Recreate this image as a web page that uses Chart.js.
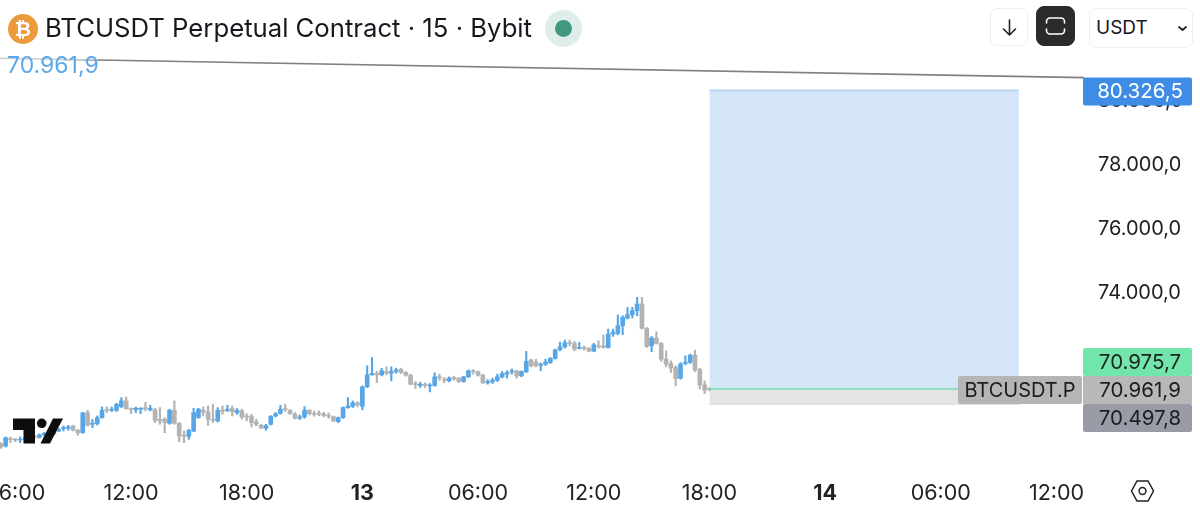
<!DOCTYPE html>
<html>
<head>
<meta charset="utf-8">
<script src="https://cdn.jsdelivr.net/npm/chart.js@4"></script>
<style>
  html, body { margin: 0; padding: 0; background: #fff; }
  #wrap { position: relative; width: 1200px; height: 513px; overflow: hidden; font-family: Inter, "Noto Sans", sans-serif; color: #16181d; }
  canvas { position: absolute; left: 0; top: 0; }
  .coin { position: absolute; left: 8px; top: 14px; width: 30px; height: 30px; border-radius: 50%; background: #ec9a3c; color: #fff; font: bold 20px "Liberation Sans", sans-serif; line-height: 30px; text-align: center; transform-origin: center; }
  .title { position: absolute; left: 45px; top: 11px; font-size: 25.7px; line-height: 34px; white-space: nowrap; letter-spacing: 0; }
  .live { position: absolute; left: 545px; top: 10px; width: 37px; height: 37px; border-radius: 50%; background: #dfeeea; }
  .live i { position: absolute; left: 10px; top: 10px; width: 17px; height: 17px; border-radius: 50%; background: #41987f; }
  .btn { position: absolute; box-sizing: border-box; border: 1.5px solid #eeeeee; border-radius: 7px; background: #fff; }
  .btn svg { position: absolute; left: 0; top: 0; }
  .dark { background: #2b2b2b; border-color: #2b2b2b; border-radius: 8px; }
  .cur { font-size: 19px; line-height: 37px; padding-left: 6px; }
</style>
</head>
<body>
<div id="wrap">
  <canvas id="c" width="1200" height="513"></canvas>
  <div class="coin">&#8383;</div>
  <div class="title">BTCUSDT Perpetual Contract · 15 · Bybit</div>
  <div class="live"><i></i></div>
  <div class="btn" style="left:990px;top:8px;width:38px;height:38px">
    <svg width="36" height="36" viewBox="0 0 36 36" fill="none" stroke="#222" stroke-width="1.6" stroke-linecap="round" stroke-linejoin="round"><path d="M18.5 11V26M12.5 20L18.5 26L24.5 20"/></svg>
  </div>
  <div class="btn dark" style="left:1036px;top:6px;width:39px;height:40px">
    <svg width="37" height="38" viewBox="0 0 37 38" fill="none" stroke="#fff" stroke-width="1.6" stroke-linecap="round"><path d="M9.5 16V14.5a3.5 3.5 0 0 1 3.5-3.5H24a3.5 3.5 0 0 1 3.5 3.5V16M9.5 22V23.5a3.5 3.5 0 0 0 3.5 3.5H24a3.5 3.5 0 0 0 3.5-3.5V22"/></svg>
  </div>
  <div class="btn cur" style="left:1089px;top:8px;width:104px;height:40px">USDT
    <svg width="102" height="38" viewBox="0 0 102 38" fill="none" stroke="#222" stroke-width="1.8" stroke-linecap="round" stroke-linejoin="round"><path d="M89 18L92.5 21L96 18"/></svg>
  </div>
</div>
<script>
// 15-minute bars of BTCUSDT, first bar three bars before 06:00 on the 12th.
const firstBar = -3;
const opens = [
  69263,69190,69421,69410,69379,69400,69430,69480,69460,69540,69590,69570,69660,
  69735,69745,69818,69682,69609,70237,69871,69892,70080,70342,70311,70311,70426,70604,
  70373,70331,70342,70394,70321,70321,70028,70028,69902,70311,69902,69525,69494,69661,70080,
  70310,70258,70028,69975,70310,70310,70363,70237,70289,70132,70122,69944,69839,69745,69870,70132,70216,
  70363,70310,70195,70069,70101,70310,70216,70216,70195,70153,70111,69954,70080,70394,70436,70541,70436,
  71043,71420,71462,71420,71525,71472,71525,
  71598,71493,71409,71148,71085,71127,71074,71085,71357,71284,71231,71336,71315,71210,71357,71545,71514,
  71409,71169,71200,71252,71357,71441,71514,71545,71388,71514,71881,71818,71723,71755,71807,71933,72205,72299,
  72435,72404,72247,72278,72247,72163,72330,72330,72278,72697,72718,72959,73199,73304,73430,73639,72875,
  72330,72571,72404,71912,71776,71650,71315,71776,71807,72037,71587,71105,70990
];
const closes = [
  69159,69452,69389,69379,69400,69430,69480,69460,69540,69590,69570,69660,69710,
  69766,69787,69682,69599,70227,69839,69902,70080,70311,70311,70342,70499,70604,70363,
  70342,70373,70373,70352,70373,69996,69976,69923,70311,69902,69504,69494,69682,70237,70342,
  70247,70028,69996,70310,70268,70342,70268,70310,70101,70101,69923,69870,69755,69829,70122,70205,70342,
  70331,70205,70059,70101,70310,70205,70185,70185,70143,70122,69975,70080,70394,70446,70541,70478,71043,
  71420,71462,71420,71546,71472,71525,71577,
  71493,71409,71127,71116,71127,71085,71106,71357,71326,71252,71315,71294,71210,71357,71545,71514,71409,
  71169,71210,71252,71357,71462,71493,71545,71388,71525,71839,71703,71703,71755,71818,71933,72205,72299,72425,
  72404,72226,72278,72236,72163,72362,72299,72278,72697,72760,72959,73220,73304,73430,73639,72875,72309,
  72571,72404,71912,71755,71629,71304,71755,71807,72037,71566,71105,70938,70962
];
const highs = [
  69295,69473,69473,69421,69473,69470,69510,69530,69570,69620,69640,69690,69750,
  69818,69839,69839,69714,70248,70311,70028,70133,70415,70415,70415,70530,70708,70729,
  70385,70415,70394,70562,70468,70373,70394,70080,70342,70604,69923,69661,69714,70373,70373,
  70415,70446,70499,70394,70446,70467,70446,70363,70342,70205,70185,70028,69870,69870,70143,70237,70467,
  70499,70331,70237,70164,70425,70331,70289,70289,70247,70226,70132,70101,70415,70708,70603,70582,71075,
  71703,71964,71525,71629,71671,71671,71629,
  71629,71525,71441,71210,71190,71169,71148,71483,71441,71336,71357,71378,71336,71378,71577,71587,71545,
  71441,71273,71315,71441,71525,71545,71608,71566,71545,72153,71912,71912,71797,71912,71964,72226,72446,72509,
  72508,72467,72435,72320,72278,72404,72488,72665,72854,72854,73294,73273,73534,73534,73849,73849,72906,
  72624,72770,72435,72173,71859,71702,71807,72016,72069,72194,71629,71231,71020
];
const lows = [
  69117,69159,69295,69326,69295,69370,69410,69430,69440,69510,69540,69550,69640,
  69661,69682,69661,69525,69588,69818,69766,69850,70059,70237,70269,70269,70394,70342,
  70206,70237,70206,70290,70290,69923,69871,69609,69871,69871,69326,69295,69400,69640,70059,
  70132,69839,69923,69944,70185,70268,70132,70185,70038,69975,69787,69818,69734,69682,69850,70101,70185,
  70268,70185,70038,70017,70059,70164,70122,70143,70101,70059,69954,69923,70059,70373,70394,70415,70321,
  71022,71409,71179,71389,71420,71232,71472,
  71462,71378,71106,70991,71022,71022,70886,71064,71252,71169,71200,71252,71179,71190,71336,71441,71378,
  71148,71127,71148,71210,71315,71315,71441,71315,71357,71493,71671,71671,71545,71713,71776,71912,72174,72257,
  72330,72173,72226,72194,72142,72142,72257,72257,72257,72624,72676,72676,73168,73199,73273,72854,72278,
  72142,72383,71838,71671,71493,71074,71283,71734,71776,71524,70980,70833,70917
];

// Trend line drawn across the whole pane.
const trendTimes = [-3.17, 221.7];
const trendPrices = [81340, 80730];

// Long position tool.
const positionTimes = [144, 208.2];
const targetPrice = 80326.5;
const entryPrice = 70975.7;
const lastPrice = 70961.9;
const stopPrice = 70497.8;

const yTicks = [74000, 76000, 78000, 80000];
const xTickBars = [0, 24, 48, 72, 96, 120, 144, 168, 192, 216];
const xTickLabels = ["06:00", "12:00", "18:00", "13", "06:00", "12:00", "18:00", "14", "06:00", "12:00"];
const boldLabels = ["13", "14"];

const BLUE = "#58a6e6";
const GREY = "#b3b3b3";
const FONT = "Inter, 'Noto Sans', sans-serif";

const fmtPrice = v => {
  const [a, b] = Math.abs(v).toFixed(1).split(".");
  return a.replace(/\B(?=(\d{3})+$)/g, ".") + "," + b;
};

const bars = opens.map((_, i) => firstBar + i);
const barColors = opens.map((o, i) => (closes[i] >= o ? BLUE : GREY));

const wicks = {
  type: "bar", label: "Range", order: 5, grouped: false, barThickness: 1.5,
  data: bars.map((x, i) => ({ x, y: [lows[i], highs[i]] })),
  backgroundColor: barColors, borderWidth: 0
};
const bodies = {
  type: "bar", label: "Body", order: 4, grouped: false, barThickness: 4,
  data: bars.map((x, i) => ({ x, y: [opens[i], closes[i]] })),
  backgroundColor: barColors, borderWidth: 0
};
const flat = (xs, p) => xs.map(x => ({ x, y: p }));
const profit = {
  type: "line", label: "Target zone", order: 9, pointRadius: 0,
  data: flat(positionTimes, targetPrice),
  borderColor: "#bcd5f1", borderWidth: 2,
  backgroundColor: "#d5e6f9", fill: { value: entryPrice }
};
const loss = {
  type: "line", label: "Stop zone", order: 8, pointRadius: 0,
  data: flat(positionTimes, stopPrice),
  borderColor: "#dcdcdc", borderWidth: 1,
  backgroundColor: "#e4e4e4", fill: { value: entryPrice }
};
const entry = {
  type: "line", label: "Entry", order: 3, pointRadius: 0,
  data: flat(positionTimes, entryPrice),
  borderColor: "#72dfb2", borderWidth: 1.6, fill: false
};
const trend = {
  type: "line", label: "Trend", order: 1, pointRadius: 0,
  data: trendTimes.map((x, i) => ({ x, y: trendPrices[i] })),
  borderColor: "#808080", borderWidth: 1.6, fill: false
};

function tag(ctx, text, x0, x1, y0, y1, bg, fg, radius, shift, size) {
  ctx.fillStyle = bg;
  ctx.beginPath();
  ctx.roundRect(x0, y0, x1 - x0, y1 - y0, radius);
  ctx.fill();
  ctx.fillStyle = fg;
  ctx.font = size + "px " + FONT;
  ctx.textAlign = "center";
  ctx.textBaseline = "middle";
  ctx.fillText(text, (x0 + x1) / 2 + shift, (y0 + y1) / 2 + 0.5);
}

// Hides the part of the time labels that runs under the price axis.
const axisEdge = {
  id: "axisEdge",
  beforeDatasetsDraw(chart) {
    const { ctx, chartArea: a } = chart;
    ctx.save();
    ctx.fillStyle = "#fff";
    ctx.fillRect(a.right, a.bottom, chart.width - a.right, chart.height - a.bottom);
    ctx.restore();
  }
};

// Price tags, the last-price readout, the watermark and the settings icon.
const overlays = {
  id: "overlays",
  afterDraw(chart) {
    const { ctx, chartArea: a, scales: { y } } = chart;
    const r = a.right;
    ctx.save();

    tag(ctx, fmtPrice(targetPrice), r - 1, r + 108, y.getPixelForValue(targetPrice) - 13, y.getPixelForValue(targetPrice) + 15, "#3f8ce6", "#fff", 2, 2.5, 20.5);
    tag(ctx, fmtPrice(entryPrice), r - 1, r + 108, 348, 376, "#72e5ab", "#1d2420", 2, 2.5, 20.5);
    tag(ctx, fmtPrice(lastPrice), r - 1, r + 108, 376, 404, "#b8b8b9", "#1d1d1f", 0, 2.5, 20.5);
    tag(ctx, fmtPrice(stopPrice), r - 1, r + 108, 404, 432, "#999ba6", "#1d1d22", 2, 2.5, 20.5);
    tag(ctx, "BTCUSDT.P", 958, 1082, 376, 404, "#b5b5b5", "#1d1d1f", 2, 0, 20);

    ctx.fillStyle = "rgba(255,255,255,0.6)";
    ctx.fillRect(0, 55, 98, 5);
    ctx.fillStyle = "#5ca8e9";
    ctx.font = "23px " + FONT;
    ctx.textAlign = "left";
    ctx.textBaseline = "middle";
    ctx.fillText(fmtPrice(lastPrice), 7, 66);

    // TradingView mark
    ctx.fillStyle = "#0d0d0d";
    ctx.beginPath();
    ctx.moveTo(13, 418.5); ctx.lineTo(35, 418.5); ctx.lineTo(35, 443.5); ctx.lineTo(23.5, 443.5);
    ctx.lineTo(23.5, 430); ctx.lineTo(13, 430); ctx.closePath();
    ctx.fill();
    ctx.beginPath();
    ctx.arc(41.7, 423.3, 4.8, 0, Math.PI * 2);
    ctx.fill();
    ctx.beginPath();
    ctx.moveTo(53, 418.5); ctx.lineTo(63, 418.5); ctx.lineTo(50, 443.5); ctx.lineTo(40.5, 443.5);
    ctx.closePath();
    ctx.fill();

    // Settings hexagon
    const cx = 1142.5, cy = 491;
    ctx.strokeStyle = "#222";
    ctx.lineWidth = 1.5;
    ctx.beginPath();
    ctx.moveTo(cx - 11, cy); ctx.lineTo(cx - 5.5, cy - 10); ctx.lineTo(cx + 5.5, cy - 10);
    ctx.lineTo(cx + 11, cy); ctx.lineTo(cx + 5.5, cy + 10); ctx.lineTo(cx - 5.5, cy + 10);
    ctx.closePath();
    ctx.stroke();
    ctx.beginPath();
    ctx.arc(cx, cy, 3.4, 0, Math.PI * 2);
    ctx.stroke();
    ctx.restore();
  }
};

new Chart(document.getElementById("c"), {
  type: "bar",
  data: { datasets: [profit, loss, wicks, bodies, entry, trend] },
  plugins: [axisEdge, overlays],
  options: {
    responsive: false,
    animation: false,
    devicePixelRatio: 1,
    layout: { autoPadding: false, padding: { top: 55, left: 0, right: 0, bottom: 0 } },
    plugins: { legend: { display: false }, tooltip: { enabled: false }, title: { display: false } },
    scales: {
      x: {
        type: "linear", offset: false, min: -3.17, max: 221.7,
        grid: { display: false }, border: { display: false },
        afterBuildTicks(s) { s.ticks = xTickBars.map(value => ({ value })); },
        afterFit(s) { s.height = 43; s.paddingLeft = 0; s.paddingRight = 0; },
        ticks: {
          autoSkip: false, maxRotation: 0, padding: 3, color: "#222",
          font: c => ({ family: FONT, size: 21.5, weight: boldLabels.includes(c.tick && c.tick.label) ? "bold" : "normal" }),
          callback: v => xTickLabels[xTickBars.indexOf(v)]
        }
      },
      y: {
        position: "right", min: 68439, max: 81440,
        grid: { display: false }, border: { display: false },
        afterBuildTicks(s) { s.ticks = yTicks.map(value => ({ value })); },
        afterFit(s) { s.width = 116; s.paddingTop = 0; s.paddingBottom = 0; },
        ticks: {
          padding: 6, color: "#222",
          font: { family: FONT, size: 20 },
          callback: v => fmtPrice(v)
        }
      }
    }
  }
});
</script>
</body>
</html>
